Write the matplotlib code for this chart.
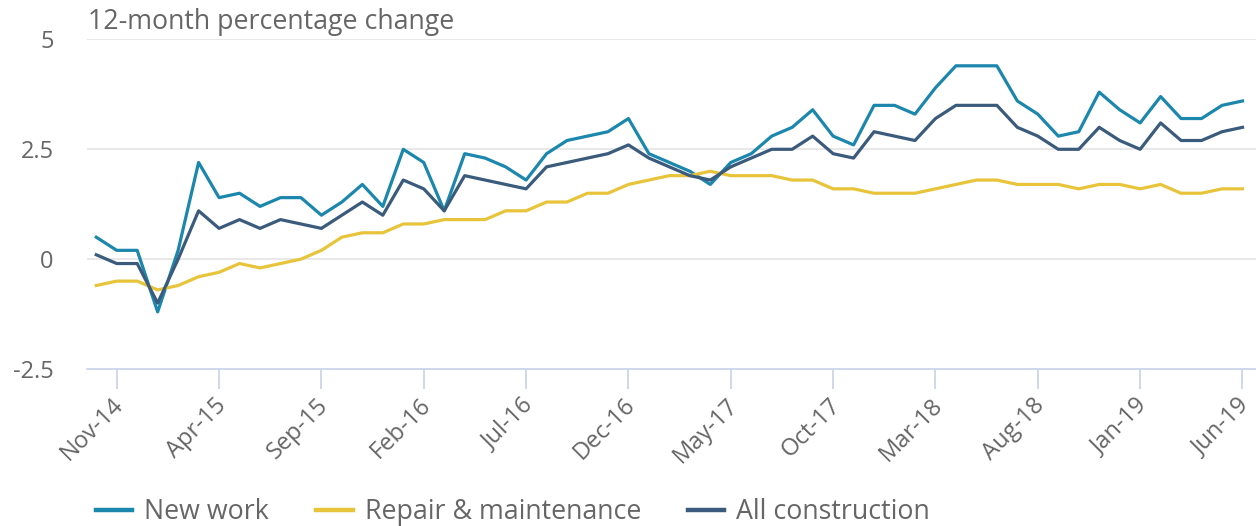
import numpy as np
import pandas as pd
import matplotlib
matplotlib.use("Agg")
import matplotlib.pyplot as plt
from matplotlib.transforms import ScaledTranslation

plt.rcParams['font.family'] = ['Open Sans', 'DejaVu Sans']

# ── Data (12-month % change, Oct-14 .. Jun-19) ──────────────────────────────
months = pd.date_range("2014-10-01", "2019-06-01", freq="MS")
month_labels = [d.strftime("%b-%y") for d in months]

new_work = [0.5, 0.2, 0.2, -1.2, 0.2, 2.2, 1.4, 1.5, 1.2, 1.4,
            1.4, 1.0, 1.3, 1.7, 1.2, 2.5, 2.2, 1.1, 2.4, 2.3,
            2.1, 1.8, 2.4, 2.7, 2.8, 2.9, 3.2, 2.4, 2.2, 2.0,
            1.7, 2.2, 2.4, 2.8, 3.0, 3.4, 2.8, 2.6, 3.5, 3.5,
            3.3, 3.9, 4.4, 4.4, 4.4, 3.6, 3.3, 2.8, 2.9, 3.8,
            3.4, 3.1, 3.7, 3.2, 3.2, 3.5, 3.6]
repair = [-0.6, -0.5, -0.5, -0.7, -0.6, -0.4, -0.3, -0.1, -0.2, -0.1,
          0.0, 0.2, 0.5, 0.6, 0.6, 0.8, 0.8, 0.9, 0.9, 0.9,
          1.1, 1.1, 1.3, 1.3, 1.5, 1.5, 1.7, 1.8, 1.9, 1.9,
          2.0, 1.9, 1.9, 1.9, 1.8, 1.8, 1.6, 1.6, 1.5, 1.5,
          1.5, 1.6, 1.7, 1.8, 1.8, 1.7, 1.7, 1.7, 1.6, 1.7,
          1.7, 1.6, 1.7, 1.5, 1.5, 1.6, 1.6]
all_construction = [0.1, -0.1, -0.1, -1.0, 0.0, 1.1, 0.7, 0.9, 0.7, 0.9,
                    0.8, 0.7, 1.0, 1.3, 1.0, 1.8, 1.6, 1.1, 1.9, 1.8,
                    1.7, 1.6, 2.1, 2.2, 2.3, 2.4, 2.6, 2.3, 2.1, 1.9,
                    1.8, 2.1, 2.3, 2.5, 2.5, 2.8, 2.4, 2.3, 2.9, 2.8,
                    2.7, 3.2, 3.5, 3.5, 3.5, 3.0, 2.8, 2.5, 2.5, 3.0,
                    2.7, 2.5, 3.1, 2.7, 2.7, 2.9, 3.0]

y_ticks = [-2.5, 0, 2.5, 5]
y_tick_labels = ["-2.5", "0", "2.5", "5"]

# ── Styling ─────────────────────────────────────────────────────────────────
C_NEW = "#1c87ad"
C_REP = "#e8c43a"
C_ALL = "#3b5b7d"
GRID = "#e6e6e6"
AXIS = "#ccd6eb"
TEXT = "#666666"

fig = plt.figure(figsize=(12.56, 5.26), dpi=100)
ax = fig.add_axes([0.0693, 0.2985, 0.9307, 0.6265])

x = np.arange(len(months))
ax.plot(x, new_work, color=C_NEW, lw=2.3, label="New work")
ax.plot(x, repair, color=C_REP, lw=2.3, label="Repair & maintenance")
ax.plot(x, all_construction, color=C_ALL, lw=2.3, label="All construction")

ax.set_xlim(-0.45, 56.66)
ax.set_ylim(-2.5, 5)

for yv in [0, 2.5, 5]:
    ax.axhline(yv, color=GRID, lw=1.3, zorder=0)

ax.set_yticks(y_ticks)
ax.set_yticklabels(y_tick_labels)
ax.tick_params(axis="y", length=0, pad=24, labelsize=17, labelcolor=TEXT)

tick_idx = list(range(1, len(months), 5))
ax.set_xticks(tick_idx)
ax.set_xticklabels([month_labels[i] for i in tick_idx], rotation=45,
                   ha="right", rotation_mode="anchor")
ax.tick_params(axis="x", direction="out", length=14.5, width=1.3, color=AXIS,
               labelsize=17, labelcolor=TEXT, pad=3)
# nudge labels left so the last one stays inside the canvas
shift = ScaledTranslation(-5 / 100, 0, fig.dpi_scale_trans)
for lbl in ax.get_xticklabels():
    lbl.set_transform(lbl.get_transform() + shift)

for s in ["top", "right", "left"]:
    ax.spines[s].set_visible(False)
ax.spines["bottom"].set_color(AXIS)
ax.spines["bottom"].set_linewidth(1.3)

fig.text(0.0700, 0.958, "12-month percentage change", fontsize=19.3,
         color=TEXT, ha="left", va="center")

leg = fig.legend(loc="center left", bbox_to_anchor=(0.0764, 0.026), ncol=3,
                 frameon=False, fontsize=19.3, handlelength=1.36,
                 handletextpad=0.45, columnspacing=1.75, borderpad=0,
                 borderaxespad=0, labelcolor=TEXT)
for line in leg.get_lines():
    line.set_linewidth(3.2)

fig.savefig("out.png", dpi=100)
